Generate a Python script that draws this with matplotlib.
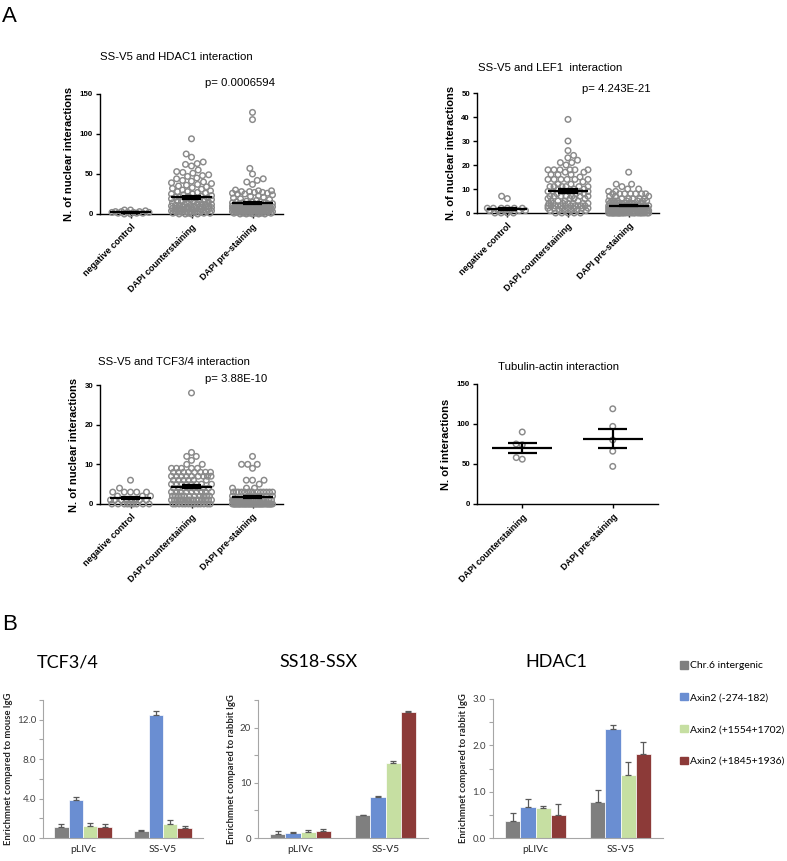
import numpy as np
import matplotlib
matplotlib.use("Agg")
import matplotlib.pyplot as plt
import matplotlib.patches as mpatches

# ---- panel A data (counts per cell) ----
scatter_labels = ["negative control", "DAPI counterstaining", "DAPI pre-staining"]

hdac_neg = [0, 0, 1, 1, 1, 2, 2, 2, 2, 3, 3, 3, 4, 5, 5]
hdac_counter = [94, 75, 71, 65, 63, 62, 60, 55, 53, 52, 51,
                49, 48, 47, 45, 44, 42, 41, 40,
                39, 38, 37, 36, 35, 34, 33, 32, 31, 30,
                29, 28, 28, 27, 26, 25, 25, 24, 23, 22, 22, 21, 21, 20, 20,
                19, 19, 18, 18, 17, 17, 16, 16, 15, 15, 14, 14, 13, 13, 12, 12,
                11, 11, 10, 10, 9, 9, 9, 8, 8, 8, 7, 7, 7, 6, 6, 6, 5, 5, 5,
                4, 4, 4, 3, 3, 3, 2, 2, 2, 1, 1, 0, 0,
                12, 11, 10, 9, 8, 7, 6, 5, 4, 3, 2, 1, 1, 0, 0]
hdac_pre = [127, 118, 57, 50, 44, 42, 40, 37,
            30, 29, 29, 28, 28, 27, 27, 26, 26, 25, 25, 24,
            23, 22, 21, 20, 19, 18, 17, 16, 15,
            15, 15, 14, 14, 14, 13, 13, 13, 12, 12, 12, 12, 11, 11, 11, 11,
            10, 10, 10, 10, 10, 9, 9, 9, 9, 9, 9, 8, 8, 8, 8, 8, 8,
            7, 7, 7, 7, 7, 7, 6, 6, 6, 6, 6, 6, 6, 5, 5, 5, 5, 5, 5, 5,
            4, 4, 4, 4, 4, 4, 4, 3, 3, 3, 3, 3, 3, 3, 2, 2, 2, 2, 2, 2,
            1, 1, 1, 1, 1, 1, 0, 0, 0, 0, 0]

lef_neg = [0, 0, 0, 0, 1, 1, 1, 1, 1, 1, 2, 2, 2, 2, 2, 2, 6, 7]
lef_counter = [39, 30, 26, 24, 23, 22, 21, 21, 20,
               18, 18, 18, 18, 18, 18, 17, 17, 16, 16, 16, 15,
               14, 14, 14, 14, 14, 14, 13, 12, 12, 11, 11, 11, 11, 11, 11,
               10, 10, 10, 9, 9, 9, 9, 9, 9, 8, 8, 8, 7, 7, 7, 7, 7, 7, 7,
               6, 6, 6, 6, 5, 5, 5, 5, 4, 4, 4, 3, 3, 3, 3, 3, 3, 3,
               2, 2, 2, 1, 1, 0,
               4, 4, 4, 4, 3, 3, 3, 3, 2, 2, 2, 2, 1, 1, 1, 1, 0, 0, 0, 0]
lef_pre = [17, 12, 12, 11, 10, 10, 9, 9, 8, 8, 8, 8, 8, 8, 8, 7, 7, 7,
           6, 6, 6, 6, 6, 5, 5, 5, 5, 5, 5, 5, 5,
           4, 4, 4, 4, 4, 4, 4, 4, 4, 4,
           3, 3, 3, 3, 3, 3, 3, 3, 3, 3, 3, 3, 3, 3, 3,
           2, 2, 2, 2, 2, 2, 2, 2, 2, 2, 2, 2, 2, 2, 2, 2, 2, 2, 2, 2,
           1, 1, 1, 1, 1, 1, 1, 1, 1, 1, 1, 1, 1, 1, 1,
           1, 1, 1, 1, 1, 1, 1, 1, 1, 1, 1, 1, 1, 1, 1,
           0, 0, 0, 0, 0, 0, 0, 0, 0, 0, 0, 0, 0, 0, 0, 0, 0, 0, 0, 0,
           0, 0, 0, 0, 0]

tcf_neg = [6, 4, 3, 3, 3, 3, 3, 2, 2, 2, 1, 1, 1, 1, 1, 1, 1, 1,
           0, 0, 0, 0, 0, 0, 0, 0, 0]
tcf_counter = [28, 13, 12, 12, 11, 10, 10, 9, 9, 9, 9, 9,
               8, 8, 8, 8, 8, 8, 8, 8, 7, 7, 7, 7, 7, 7, 7, 7, 7,
               6, 6, 6, 6, 6, 6, 5, 5, 5, 5, 5, 5, 5, 5,
               4, 4, 4, 4, 4, 4, 4, 4, 3, 3, 3, 3, 3, 3, 3, 3, 3,
               2, 2, 2, 2, 2, 2, 2, 2, 2, 2, 2,
               1, 1, 1, 1, 1, 1, 1, 1, 1, 1, 1, 1, 1, 1, 1, 1,
               0, 0, 0, 0, 0, 0, 0, 0, 0, 0, 0, 0, 0]
tcf_pre = [12, 10, 10, 10, 9, 6, 6, 6, 5, 4, 4, 4,
           3, 3, 3, 3, 3, 3, 3, 3, 3, 3, 3, 3, 3, 3,
           2, 2, 2, 2, 2, 2,
           1, 1, 1, 1, 1, 1, 1, 1, 1, 1, 1, 1, 1, 1,
           1, 1, 1, 1, 1, 1, 1, 1, 1, 1, 1, 1, 1,
           0, 0, 0, 0, 0, 0, 0, 0, 0, 0, 0, 0, 0, 0, 0, 0, 0, 0, 0, 0,
           0, 0, 0, 0, 0, 0, 0, 0, 0, 0, 0, 0, 0, 0, 0, 0, 0, 0, 0, 0]

tub_labels = ["DAPI counterstaining", "DAPI pre-staining"]
tub_counter = [90, 75, 74, 58, 56]
tub_pre = [119, 97, 80, 66, 47]

# ---- panel B data (series x [pLIVc, SS-V5]) ----
bar_groups = ["pLIVc", "SS-V5"]
series_names = ["Chr.6 intergenic", "Axin2 (-274-182)",
                "Axin2 (+1554+1702)", "Axin2 (+1845+1936)"]
series_colors = ["#7f7f7f", "#6a8ed2", "#c6dfa2", "#8c3a38"]

tcf_bar = [[1.15, 0.72], [3.9, 12.5], [1.25, 1.4], [1.15, 1.0]]
tcf_err = [[0.27, 0.1], [0.27, 0.34], [0.27, 0.44], [0.27, 0.2]]
ssx_bar = [[0.8, 4.1], [0.9, 7.45], [1.0, 13.6], [1.27, 22.9]]
ssx_err = [[0.55, 0.12], [0.1, 0.1], [0.5, 0.3], [0.35, 0.1]]
hd_bar = [[0.37, 0.78], [0.67, 2.35], [0.64, 1.37], [0.49, 1.81]]
hd_err = [[0.17, 0.25], [0.17, 0.09], [0.05, 0.26], [0.24, 0.27]]

W, H = 787, 861
ARIAL = "Liberation Sans"
CALIBRI = "Lato"
fig = plt.figure(figsize=(W / 100, H / 100), dpi=100)


def px_axes(l, t, r, b):
    return fig.add_axes([l / W, 1 - b / H, (r - l) / W, (b - t) / H])


def ftext(x, y, s, **kw):
    fig.text(x / W, 1 - y / H, s, **kw)


def swarm_offsets(vals, px_unit, d, max_half):
    # simple beeswarm in pixel space, overlaps allowed once width is used up
    y = np.asarray(vals, float) * px_unit
    xs = np.zeros(len(y))
    done = []
    grid = np.linspace(-max_half, max_half, 41)
    for i in np.argsort(y, kind="stable"):
        yi = y[i]
        near = [(xs[j], y[j]) for j in done if abs(y[j] - yi) < d]
        cands = [0.0]
        for xj, yj in near:
            dx = np.sqrt(d * d - (yj - yi) ** 2)
            cands += [xj - dx, xj + dx]
        best = None
        for c in sorted(cands, key=abs):
            if abs(c) > max_half:
                continue
            if all((c - xj) ** 2 + (yj - yi) ** 2 >= d * d - 1e-6 for xj, yj in near):
                best = c
                break
        if best is None:
            scores = [min(np.hypot(g - xj, yj - yi) for xj, yj in near) for g in grid]
            best = grid[int(np.argmax(scores))]
        xs[i] = best
        done.append(i)
    return xs


def dot_panel(box, groups, labels, ymax, ystep, ylabel, max_half=20):
    ax = px_axes(*box)
    n = len(groups)
    ax.set_xlim(-0.5, n - 0.5)
    ax.set_ylim(0, ymax)
    px_cat = (box[2] - box[0]) / n
    px_unit = (box[3] - box[1]) / ymax
    for i, vals in enumerate(groups):
        vals = np.asarray(vals, float)
        off = swarm_offsets(vals, px_unit, 6.2, max_half)
        ax.scatter(i + off / px_cat, vals, s=16, facecolors="none",
                   edgecolors="#8a8a8a", linewidths=1.05, clip_on=False, zorder=3)
        m = vals.mean()
        se = vals.std(ddof=1) / np.sqrt(len(vals))
        kw = dict(color="black", lw=1.6, zorder=4, solid_capstyle="butt")
        ax.plot([i - 0.33, i + 0.33], [m, m], **kw)
        ax.plot([i - 0.16, i + 0.16], [m + se, m + se], **kw)
        ax.plot([i - 0.16, i + 0.16], [m - se, m - se], **kw)
        ax.plot([i, i], [m - se, m + se], **kw)
    for s in ["top", "right"]:
        ax.spines[s].set_visible(False)
    for s in ["left", "bottom"]:
        ax.spines[s].set_linewidth(1.0)
    ax.set_yticks(np.arange(0, ymax + 0.1, ystep))
    ax.set_xticks(range(n))
    ax.set_xticklabels(labels, rotation=45, ha="right", rotation_mode="anchor",
                       fontsize=6.5, fontweight="bold", family=ARIAL)
    for t in ax.get_yticklabels():
        t.set_fontsize(5.7)
        t.set_fontweight("bold")
        t.set_family(ARIAL)
    ax.tick_params(length=3, width=1, pad=2)
    ax.tick_params(axis="x", pad=3)
    ax.set_ylabel(ylabel, fontsize=8, fontweight="bold", family=ARIAL, labelpad=4)
    return ax


def bar_panel(box, vals, errs, ymax, minor, major, fmt, ylabel):
    ax = px_axes(*box)
    x = np.arange(len(bar_groups))
    w = 0.18
    for k in range(len(series_names)):
        ax.bar(x + (k - 1.5) * w, vals[k], w, color=series_colors[k],
               edgecolor="white", linewidth=0.5,
               yerr=[np.zeros(len(x)), errs[k]],
               error_kw=dict(ecolor="#595959", elinewidth=0.9, capsize=2, capthick=0.9))
    ax.set_xlim(-0.5, len(bar_groups) - 0.5)
    ax.set_ylim(0, ymax)
    ticks = np.arange(0, ymax + 1e-9, minor)
    ax.set_yticks(ticks)
    ax.set_yticklabels([fmt.format(t) if abs(t / major - round(t / major)) < 1e-6 else ""
                        for t in ticks], fontsize=7, family=CALIBRI, color="#404040")
    ax.set_xticks(x)
    ax.set_xticklabels(bar_groups, fontsize=7.5, family=CALIBRI, color="#262626")
    ax.tick_params(axis="x", length=0, pad=5)
    ax.tick_params(axis="y", length=3, width=0.8, color="#a6a6a6", pad=2)
    for s in ["top", "right"]:
        ax.spines[s].set_visible(False)
    for s in ["left", "bottom"]:
        ax.spines[s].set_color("#a6a6a6")
        ax.spines[s].set_linewidth(0.8)
    ax.set_ylabel(ylabel, fontsize=6.8, fontweight="bold", family=CALIBRI,
                  color="#262626", labelpad=3)
    return ax


# ---- panel A ----
ftext(2, 17, "A", fontsize=16, family=ARIAL, va="center")

dot_panel((100, 94, 283, 214), [hdac_neg, hdac_counter, hdac_pre], scatter_labels,
          150, 50, "N. of nuclear interactions")
ftext(176, 57, "SS-V5 and HDAC1 interaction", fontsize=8.2, family=ARIAL, ha="center", va="center")
ftext(205, 83, "p= 0.0006594", fontsize=8.2, family=ARIAL, va="center")

dot_panel((477, 93, 659, 213), [lef_neg, lef_counter, lef_pre], scatter_labels,
          50, 10, "N. of nuclear interactions")
ftext(550, 68, "SS-V5 and LEF1  interaction", fontsize=8.2, family=ARIAL, ha="center", va="center")
ftext(582, 89, "p= 4.243E-21", fontsize=8.2, family=ARIAL, va="center")

dot_panel((100, 385, 283, 504), [tcf_neg, tcf_counter, tcf_pre], scatter_labels,
          30, 10, "N. of nuclear interactions")
ftext(174, 362, "SS-V5 and TCF3/4 interaction", fontsize=8.2, family=ARIAL, ha="center", va="center")
ftext(205, 379, "p= 3.88E-10", fontsize=8.2, family=ARIAL, va="center")

dot_panel((477, 384, 658, 504), [tub_counter, tub_pre], tub_labels,
          150, 50, "N. of interactions")
ftext(559, 367, "Tubulin-actin interaction", fontsize=8.2, family=ARIAL, ha="center", va="center")

# ---- panel B ----
ftext(2, 625, "B", fontsize=16, family=ARIAL, va="center")

bar_panel((43, 700, 203, 838), tcf_bar, tcf_err, 14, 2, 4, "{:.1f}",
          "Enrichmnet compared to mouse IgG")
ftext(68, 662, "TCF3/4", fontsize=13, family=CALIBRI, ha="center", va="center")

bar_panel((258, 700, 428, 838), ssx_bar, ssx_err, 25, 5, 10, "{:.0f}",
          "Enrichmnet compared to rabbit IgG")
ftext(318, 662, "SS18-SSX", fontsize=13, family=CALIBRI, ha="center", va="center")

bar_panel((493, 699, 663, 838), hd_bar, hd_err, 3, 0.5, 1, "{:.1f}",
          "Enrichmnet compared to rabbit IgG")
ftext(556, 662, "HDAC1", fontsize=13, family=CALIBRI, ha="center", va="center")

handles = [mpatches.Patch(color=c) for c in series_colors]
fig.legend(handles, series_names, loc="upper left", bbox_to_anchor=(680 / W, 1 - 661 / H),
           frameon=False, prop={"family": CALIBRI, "size": 7.5},
           handlelength=0.75, handleheight=0.75, handletextpad=0.25,
           labelspacing=2.15, borderpad=0, borderaxespad=0)

fig.savefig("out.png", dpi=100)
